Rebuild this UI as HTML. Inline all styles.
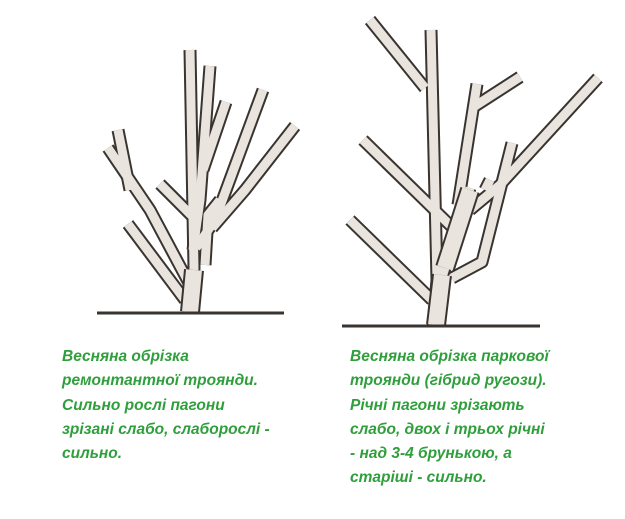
<!DOCTYPE html>
<html><head><meta charset="utf-8"><style>
body{margin:0;background:#fff;width:625px;height:519px;overflow:hidden;position:relative}
.t{position:absolute;font-family:"Liberation Sans",sans-serif;font-weight:bold;font-style:italic;font-size:15.5px;line-height:24.3px;color:#2f9f3c;white-space:nowrap}
</style></head><body>
<svg width="625" height="519" style="position:absolute;left:0;top:0">
<defs>
<g id="L">
<path d="M190,314 L194,268 L190,50"/>
<path d="M193,250 L200,200 L210,66"/>
<path d="M203,170 L226,102"/>
<path d="M196,248 L215,220 L263,90"/>
<path d="M212,228 L245,190 L295,126"/>
<path d="M190,285 L150,210 L108,148"/>
<path d="M130,190 L118,130"/>
<path d="M185,300 L128,224"/>
<path d="M198,222 L160,184"/>
<path d="M205,265 L208,215 L220,200"/>
</g>
<g id="R">
<path d="M433,326 L437,280 L431,30"/>
<path d="M425,88 L370,20"/>
<path d="M438,290 L470,188"/>
<path d="M458,205 L477,84"/>
<path d="M472,108 L520,77"/>
<path d="M455,230 L363,140"/>
<path d="M432,300 L350,220"/>
<path d="M452,278 L482,262 L512,143"/>
<path d="M470,210 L500,185 L598,78"/>
<path d="M485,190 L490,180"/>
</g>
</defs>
<g fill="none" stroke="#3a3430" stroke-width="13" stroke-linejoin="round"><use href="#L"/><use href="#R"/></g>
<g fill="none" stroke="#e9e4de" stroke-width="9" stroke-linejoin="round"><use href="#L"/><use href="#R"/></g>
<g fill="none" stroke="#3a3430" stroke-width="20"><path d="M445,268 L470,190"/><path d="M190,312 L194,270"/><path d="M436,325 L442,275"/></g>
<g fill="none" stroke="#e9e4de" stroke-width="16"><path d="M445,268 L470,190"/><path d="M190,312 L194,270"/><path d="M436,325 L442,275"/></g>
<line x1="97" y1="313" x2="284" y2="313" stroke="#3a3430" stroke-width="3"/>
<line x1="342" y1="326" x2="540" y2="326" stroke="#3a3430" stroke-width="3"/>
</svg>
<div class="t" style="left:62px;top:345px">Весняна обрізка<br>ремонтантної троянди.<br>Сильно рослі пагони<br>зрізані слабо, слаборослі -<br>сильно.</div>
<div class="t" style="left:350px;top:345px">Весняна обрізка паркової<br>троянди (гібрид ругози).<br>Річні пагони зрізають<br>слабо, двох і трьох річні<br>- над 3-4 брунькою, а<br>старіші - сильно.</div>
</body></html>
